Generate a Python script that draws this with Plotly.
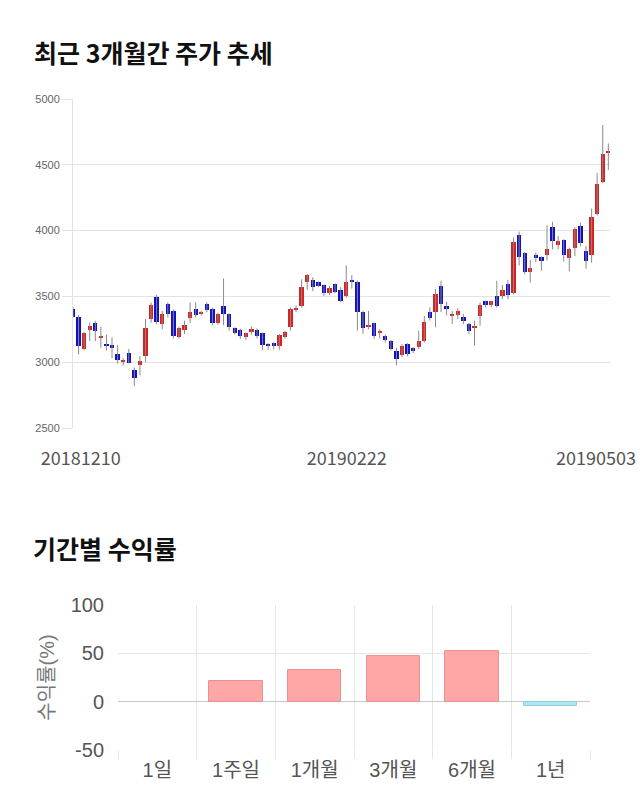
import plotly.graph_objects as go

# ---- Candlestick data (index 0 = 20181210 ... 96 = 20190503) ----
opens = [3408, 3347, 3102, 3245, 3301, 3190, 3140, 3130, 3064, 3000,
         3072, 2937, 2977, 3046, 3327, 3497, 3288, 3441, 3390, 3191,
         3245, 3333, 3404, 3364, 3442, 3404, 3295, 3424, 3366, 3257,
         3247, 3189, 3227, 3247, 3219, 3136, 3146, 3121, 3189, 3265,
         3400, 3429, 3606, 3626, 3606, 3586, 3525, 3593, 3550, 3500,
         3624, 3611, 3379, 3270, 3295, 3224, 3197, 3164, 3084, 3054,
         3135, 3105, 3114, 3164, 3379, 3379, 3581, 3424, 3358, 3358,
         3341, 3290, 3262, 3354, 3462, 3437, 3500, 3505, 3596, 3527,
         3964, 3832, 3687, 3812, 3799, 3812, 4028, 3890, 3928, 3794,
         3870, 4035, 3845, 3812, 4124, 4370, 4590]
closes = [3347, 3123, 3225, 3276, 3237, 3198, 3125, 3105, 3013, 3020,
          2995, 2880, 3008, 3263, 3436, 3309, 3370, 3365, 3200, 3263,
          3283, 3384, 3361, 3381, 3399, 3295, 3366, 3366, 3265, 3222,
          3202, 3219, 3252, 3202, 3131, 3124, 3121, 3207, 3227, 3404,
          3408, 3568, 3662, 3568, 3581, 3523, 3563, 3535, 3467, 3606,
          3606, 3379, 3257, 3285, 3197, 3230, 3171, 3101, 3021, 3123,
          3064, 3082, 3158, 3303, 3336, 3518, 3442, 3404, 3364, 3386,
          3316, 3240, 3268, 3434, 3437, 3462, 3424, 3548, 3507, 3916,
          3801, 3687, 3718, 3794, 3768, 3857, 3921, 3921, 3812, 3862,
          4015, 3908, 3768, 4104, 4353, 4581, 4600]
highs = [3420, 3360, 3230, 3301, 3314, 3270, 3210, 3190, 3130, 3030,
         3100, 2960, 3046, 3327, 3454, 3512, 3390, 3454, 3400, 3270,
         3315, 3455, 3455, 3390, 3455, 3415, 3375, 3636, 3370, 3265,
         3255, 3225, 3272, 3257, 3225, 3145, 3150, 3215, 3240, 3417,
         3430, 3630, 3670, 3645, 3615, 3590, 3580, 3600, 3570, 3737,
         3662, 3620, 3390, 3390, 3300, 3250, 3210, 3170, 3110, 3135,
         3145, 3115, 3240, 3350, 3417, 3556, 3619, 3460, 3389, 3409,
         3366, 3300, 3315, 3454, 3467, 3467, 3619, 3586, 3627, 3947,
         3992, 3840, 3779, 3832, 3805, 4040, 4066, 3959, 3935, 3870,
         4025, 4060, 3883, 4167, 4437, 4802, 4662]
lows = [3340, 3059, 3090, 3160, 3160, 3110, 3090, 3030, 2990, 2975,
        2990, 2817, 2900, 3000, 3300, 3290, 3250, 3340, 3180, 3180,
        3215, 3300, 3340, 3355, 3380, 3280, 3285, 3280, 3240, 3210,
        3177, 3170, 3210, 3180, 3090, 3095, 3095, 3095, 3180, 3240,
        3380, 3416, 3550, 3540, 3570, 3505, 3510, 3525, 3455, 3490,
        3560, 3240, 3215, 3250, 3177, 3180, 3150, 3090, 2975, 3040,
        3045, 3070, 3100, 3150, 3316, 3265, 3381, 3356, 3290, 3328,
        3290, 3215, 3126, 3277, 3416, 3416, 3416, 3480, 3478, 3515,
        3735, 3667, 3606, 3761, 3695, 3774, 3857, 3857, 3766, 3690,
        3806, 3880, 3710, 3756, 4114, 4360, 4460]

date_labels = ["20181210", "20190222", "20190503"]
date_label_pos = [1.4, 49.1, 93.8]
price_ticks = [2500, 3000, 3500, 4000, 4500, 5000]

# ---- Period returns data ----
periods = ["1일", "1주일", "1개월", "3개월", "6개월", "1년"]
returns = [0, 21.7, 32.8, 47.6, 52.4, -4.8]
return_ticks = [-50, 0, 50, 100]
return_tick_text = ["-50", "0", "50", "100"]

UP = "#d92121"
DOWN = "#1010c8"
W, H = 640, 810

idx = list(range(len(opens)))
wx, wy = [], []
for i, h, l in zip(idx, highs, lows):
    wx += [i, i, None]
    wy += [l, h, None]

body_base = [min(o, c) for o, c in zip(opens, closes)]
body_len = [abs(c - o) if abs(c - o) > 0 else 4 for o, c in zip(opens, closes)]
body_col = [UP if c >= o else DOWN for o, c in zip(opens, closes)]

fig = go.Figure()
fig.add_trace(go.Scatter(x=wx, y=wy, mode="lines", line=dict(color="#8a8a8a", width=1),
                         hoverinfo="skip", showlegend=False, xaxis="x", yaxis="y"))
fig.add_trace(go.Bar(x=idx, y=body_len, base=body_base, width=0.78,
                     marker=dict(color=body_col, line=dict(width=0)),
                     showlegend=False, xaxis="x", yaxis="y"))

bar_col = ["#ffa6a6" if v >= 0 else "#abe6f0" for v in returns]
bar_line = ["#e69393" if v >= 0 else "#8fd0dc" for v in returns]
bar_lw = [1 if v != 0 else 0 for v in returns]
fig.add_trace(go.Bar(x=periods, y=returns, width=0.68,
                     marker=dict(color=bar_col, line=dict(color=bar_line, width=bar_lw)),
                     showlegend=False, xaxis="x2", yaxis="y2"))

def py(p):
    return 1 - p / H

fig.update_layout(
    width=W, height=H,
    margin=dict(l=0, r=0, t=0, b=0, autoexpand=False),
    paper_bgcolor="white", plot_bgcolor="white",
    font=dict(family="Liberation Sans, Noto Sans CJK KR", color="#555"),
    bargap=0,
    xaxis=dict(domain=[73 / W, 610 / W], range=[0, 96.3], showgrid=False, zeroline=False,
               showline=False, tickmode="array", tickvals=date_label_pos, ticktext=date_labels,
               ticks="", tickfont=dict(size=18, color="#555", family="Noto Sans CJK KR"),
               ticklabelstandoff=18, anchor="y", automargin=False),
    yaxis=dict(domain=[py(428), py(99)], range=[2500, 5000], tickmode="array",
               tickvals=price_ticks, showgrid=True, gridcolor="#e3e3e3", gridwidth=1,
               zeroline=False, showline=True, linecolor="#e3e3e3", linewidth=1,
               ticks="outside", ticklen=10, tickcolor="#e3e3e3",
               tickfont=dict(size=11, color="#666"), anchor="x", automargin=False),
    xaxis2=dict(domain=[118 / W, 590 / W], type="category", tickson="boundaries",
                showgrid=True, gridcolor="#e6e6e6", gridwidth=1, zeroline=False,
                showline=False, ticks="outside", ticklen=8, tickcolor="#e6e6e6",
                ticklabelstandoff=6,
                tickfont=dict(size=20, color="#555"), anchor="y2", automargin=False),
    yaxis2=dict(domain=[py(750), py(605)], range=[-50, 100], tickmode="array",
                tickvals=return_ticks, ticktext=return_tick_text, showgrid=True, gridcolor="#e6e6e6",
                zeroline=True, zerolinecolor="#c8c8c8", zerolinewidth=1,
                ticks="outside", ticklen=9, tickcolor="rgba(0,0,0,0)",
                tickfont=dict(size=20, color="#555"),
                title=dict(text="수익률(%)", font=dict(size=20, color="#777"), standoff=10),
                anchor="x2", automargin=False),
    annotations=[
        dict(text="<b>최근 3개월간 주가 추세</b>", x=32 / W, y=py(52), xref="paper", yref="paper",
             xanchor="left", yanchor="middle", showarrow=False,
             font=dict(size=25, color="#111", family="Noto Sans CJK KR")),
        dict(text="<b>기간별 수익률</b>", x=31 / W, y=py(548), xref="paper", yref="paper",
             xanchor="left", yanchor="middle", showarrow=False,
             font=dict(size=25, color="#111", family="Noto Sans CJK KR")),
    ],
)

fig.write_html("out.html")
